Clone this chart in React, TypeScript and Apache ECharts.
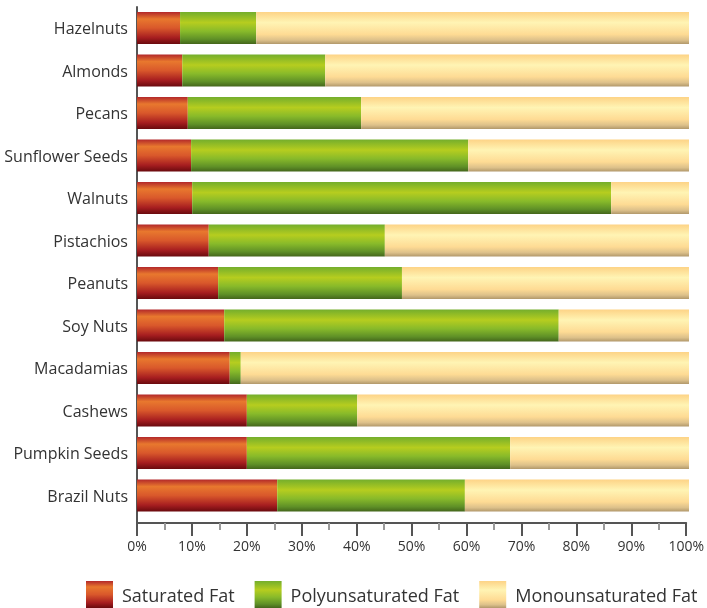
import React, { useEffect, useRef } from "react";
import * as echarts from "echarts";

const categories = [
  "Hazelnuts",
  "Almonds",
  "Pecans",
  "Sunflower Seeds",
  "Walnuts",
  "Pistachios",
  "Peanuts",
  "Soy Nuts",
  "Macadamias",
  "Cashews",
  "Pumpkin Seeds",
  "Brazil Nuts",
];

const saturated = [7.8, 8.2, 9.2, 9.8, 10.0, 13.0, 14.7, 15.8, 16.8, 19.9, 19.9, 25.4];
const polyunsaturated = [13.8, 25.9, 31.4, 50.2, 75.9, 31.9, 33.3, 60.6, 2.0, 20.0, 47.7, 34.0];
const monounsaturated = saturated.map((s, i) => +(100 - s - polyunsaturated[i]).toFixed(1));

const seriesNames = ["Saturated Fat", "Polyunsaturated Fat", "Monounsaturated Fat"];

const FONT = "'Open Sans', sans-serif";

const grad = (stops: [number, string][]) =>
  new echarts.graphic.LinearGradient(
    0,
    0,
    0,
    1,
    stops.map(([offset, color]) => ({ offset, color }))
  );

export default function App() {
  const ref = useRef<HTMLDivElement>(null);

  useEffect(() => {
    if (!ref.current) return;
    const chart = echarts.init(ref.current, null, { renderer: "svg" });

    const satColor = grad([
      [0, "#b3282a"],
      [0.22, "#e8782e"],
      [0.5, "#d9582b"],
      [0.8, "#a71e20"],
      [1, "#6a0a0e"],
    ]);
    const polyColor = grad([
      [0, "#74ae2c"],
      [0.33, "#b6cd1f"],
      [0.6, "#88ba2a"],
      [0.85, "#5f9027"],
      [1, "#44661b"],
    ]);
    const monoColor = grad([
      [0, "#fdd386"],
      [0.33, "#fff4b4"],
      [0.7, "#fedb94"],
      [0.88, "#dcc08a"],
      [1, "#b1986b"],
    ]);

    const data = [saturated, polyunsaturated, monounsaturated];
    const colors = [satColor, polyColor, monoColor];

    chart.setOption({
      animation: false,
      textStyle: { fontFamily: FONT },
      grid: [
        { left: 137, width: 552, top: 6.75, height: 510, containLabel: false },
        { left: 137, width: 552, top: 7, height: 516, containLabel: false },
      ],
      legend: {
        data: seriesNames,
        left: 86,
        top: 581,
        padding: 0,
        itemWidth: 27,
        itemHeight: 27,
        itemGap: 20,
        icon: "rect",
        textStyle: {
          fontSize: 18,
          color: "#333",
          fontFamily: FONT,
          padding: [0, 0, 0, 4],
        },
      },
      xAxis: [
        {
          gridIndex: 0,
          type: "value",
          min: 0,
          max: 100,
          show: false,
        },
        {
          gridIndex: 1,
          type: "value",
          min: 0,
          max: 100,
          interval: 10,
          axisLine: { show: true, onZero: false, lineStyle: { color: "#555", width: 2 } },
          axisTick: { show: true, length: 13, lineStyle: { color: "#555", width: 2 } },
          minorTick: { show: true, splitNumber: 2, length: 7, lineStyle: { color: "#9a9a9a", width: 2 } },
          splitLine: { show: false },
          minorSplitLine: { show: false },
          axisLabel: {
            formatter: "{value}%",
            fontSize: 14,
            color: "#333",
            margin: 15,
            fontFamily: FONT,
          },
        },
      ],
      yAxis: [
        {
          gridIndex: 0,
          type: "category",
          data: categories,
          inverse: true,
          axisLine: { show: false },
          axisTick: { show: false },
          axisLabel: { fontSize: 16, color: "#333", margin: 9, fontFamily: FONT },
        },
        {
          gridIndex: 1,
          type: "value",
          min: 0,
          max: 1,
          axisLine: { show: true, onZero: false, lineStyle: { color: "#555", width: 2 } },
          axisTick: { show: false },
          axisLabel: { show: false },
          splitLine: { show: false },
        },
      ],
      series: seriesNames.map((name, i) => ({
        name,
        type: "bar",
        stack: "total",
        xAxisIndex: 0,
        yAxisIndex: 0,
        barWidth: 32,
        data: data[i],
        itemStyle: { color: colors[i] },
        emphasis: { disabled: true },
      })),
    });

    return () => chart.dispose();
  }, []);

  return (
    <div
      ref={ref}
      style={{ position: "fixed", left: 0, top: 0, width: 707, height: 608 }}
    />
  );
}
